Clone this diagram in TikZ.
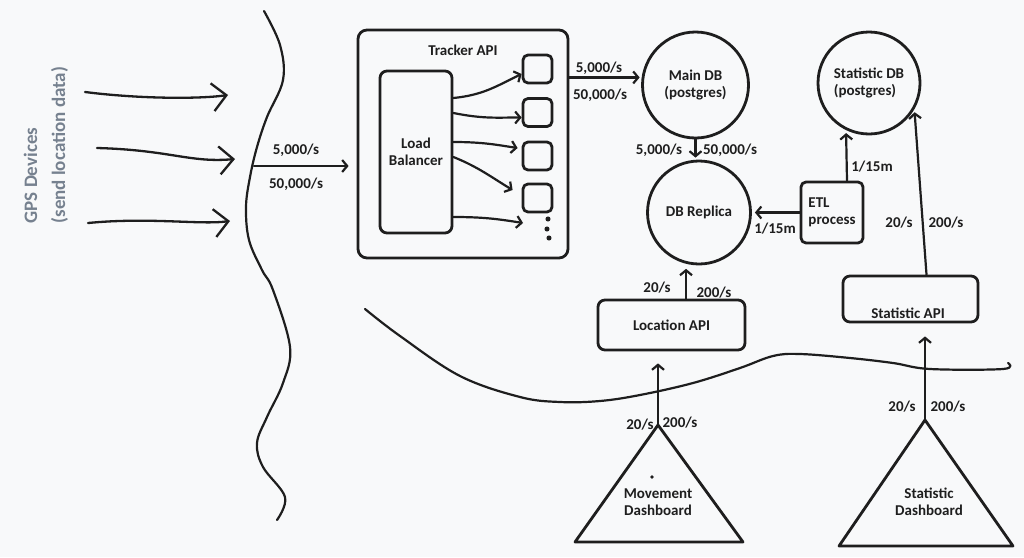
\documentclass[tikz,border=0pt]{standalone}
\usepackage{fontspec}
\setmainfont{Carlito}
\usetikzlibrary{arrows.meta,calc}
\definecolor{bg}{HTML}{F8F9FA}
\definecolor{ink}{HTML}{1E1E1E}
\definecolor{gpscol}{HTML}{76818F}
\begin{document}
\begin{tikzpicture}[x=1pt,y=-1pt, line join=round, line cap=round,
  every node/.style={font=\bfseries\fontsize{15}{17}\selectfont, text=ink},
  box/.style={draw=ink, line width=2.8pt, rounded corners=7pt},
  db/.style={draw=ink, line width=2.8pt, circle, inner sep=0pt, align=center},
  conn/.style={draw=ink, line width=2.2pt, -{Straight Barb[length=5pt,width=12pt]}},
  bigarr/.style={draw=ink, line width=2.3pt, -{Straight Barb[length=14pt,width=28pt]}},
  lbl/.style={inner sep=1pt},
  wave/.style={draw=ink, line width=2.2pt},
  tri/.style={draw=ink, line width=2.8pt},
]
\fill[bg] (0,0) rectangle (1024,557);
\useasboundingbox (0,0) rectangle (1024,557);

% GPS devices
\node[rotate=90, anchor=west, align=left, text=gpscol, font=\bfseries\fontsize{19}{28}\selectfont] (gps) at (46,227) {GPS Devices\\(send location data)};
\coordinate (g1s) at (85,92);  \coordinate (g1e) at (228,95);
\coordinate (g2s) at (97,148); \coordinate (g2e) at (235,159);
\coordinate (g3s) at (88,223); \coordinate (g3e) at (230,221);
\draw[bigarr] (g1s) .. controls (140,99) and (200,99) .. (g1e);
\draw[bigarr] (g2s) .. controls (170,150) and (190,163) .. (g2e);
\draw[bigarr] (g3s) .. controls (150,217) and (200,225) .. (g3e);

% wavy boundary (vertical)
\draw[wave] plot[smooth, tension=0.6] coordinates {(264,11) (280,45) (283,80) (267,117) (257,147) (250,177) (246,207) (249,240) (262,270) (273,290) (290,347) (283,383) (267,417) (257,443) (263,467) (285,497) (277,520)};

% wavy boundary (horizontal)
\draw[wave] plot[smooth, tension=0.6] coordinates {(365,309) (400,336) (460,376) (520,397) (560,402) (600,401) (640,395) (693,383) (740,368) (773,356) (800,354) (850,358) (893,363) (930,369) (1003,369) (1008,363)};

% Tracker API
\node[box, rounded corners=9pt, minimum width=210pt, minimum height=228pt] (tracker) at (463,144) {};
\node (trackertitle) at (463,50) {Tracker API};
\node[box, minimum width=72pt, minimum height=162pt, align=center] (lb) at (416,152) {Load\\Balancer};
\node[box, rounded corners=5pt, minimum width=29pt, minimum height=28pt] (s1) at (537.5,69) {};
\node[box, rounded corners=5pt, minimum width=29pt, minimum height=28pt] (s2) at (537.5,112.5) {};
\node[box, rounded corners=5pt, minimum width=29pt, minimum height=28pt] (s3) at (537.5,156) {};
\node[box, rounded corners=5pt, minimum width=29pt, minimum height=28pt] (s4) at (537.5,198) {};
\node[circle, fill=ink, inner sep=1.8pt] (d1) at (548,219) {};
\node[circle, fill=ink, inner sep=1.8pt] (d2) at (547,229) {};
\node[circle, fill=ink, inner sep=1.8pt] (d3) at (549,238) {};
\coordinate (dotsarr) at (523,223);

\draw[conn] ([yshift=54pt]lb.east) .. controls +(30,-3) and +(-25,12) .. ([yshift=-5pt]s1.west);
\draw[conn] ([yshift=39pt]lb.east) .. controls +(30,6) and +(-25,0) .. ([yshift=-5pt]s2.west);
\draw[conn] ([yshift=10pt]lb.east) .. controls +(30,0) and +(-20,-3) .. ([yshift=8pt,xshift=-4pt]s3.west);
\draw[conn] ([yshift=-5pt]lb.east) .. controls +(25,10) and +(-20,-12) .. ([xshift=-9pt,yshift=8pt]s4.west);
\draw[conn] ([yshift=-65pt]lb.east) .. controls +(30,0) and +(-25,-4) .. (dotsarr);

% incoming arrow from boundary
\coordinate (w1) at (254,166);
\draw[conn, shorten >=8pt] (w1) -- (w1 -| tracker.west);
\node[lbl] (in1) at (296,150) {5,000/s};
\node[lbl] (in2) at (296,184) {50,000/s};

% databases
\node[db, minimum size=106pt] (main) at (695.5,85) {Main DB\\(postgres)};
\node[db, minimum size=103pt] (replica) at (699,212.5) {DB Replica};
\node[db, minimum size=102pt, align=left] (statdb) at (869,83) {Statistic DB\\(postgres)};
\node[box, rounded corners=5pt, minimum width=62pt, minimum height=61pt, align=left] (etl) at (832,212.5) {ETL\\process};

\draw[conn, shorten >=2pt] (tracker.east |- main.172) -- (main.172);
\node[lbl] (t1) at (599,68) {5,000/s};
\node[lbl] (t2) at (600,95) {50,000/s};

\draw[conn, shorten >=2pt] (main.south) -- (main.south |- replica.north);
\node[lbl] (m1) at (659,150) {5,000/s};
\node[lbl] (m2) at (730,150) {50,000/s};

\draw[conn, shorten >=3pt] (etl.west) -- (replica.east);
\node[lbl] (e1) at (775,229) {1/15m};
\draw[conn, shorten >=3pt] ([xshift=15pt]etl.north) -- (statdb.244);
\node[lbl] (e2) at (872,167) {1/15m};

% APIs
\node[box, minimum width=147pt, minimum height=50pt] (locapi) at (671.5,325) {Location API};
\node[box, minimum width=135pt, minimum height=46pt] (statapi) at (910.5,299) {};
\node (statapitxt) at (908,313) {Statistic API};

\draw[conn, shorten >=5pt] ([xshift=14.5pt]locapi.north) -- ([xshift=14.5pt]locapi.north |- replica.256);
\node[lbl] (l1) at (657,288) {20/s};
\node[lbl] (l2) at (714,293) {200/s};

\draw[conn, shorten >=3pt] ([xshift=16pt]statapi.north) -- (statdb.330);
\node[lbl] (sa1) at (899,223) {20/s};
\node[lbl] (sa2) at (946,223) {200/s};

% dashboards
\coordinate (mdA) at (658,425); \coordinate (mdB) at (575,542); \coordinate (mdC) at (743,542);
\draw[tri] (mdA) -- (mdB) -- (mdC) -- cycle;
\node[align=center] (mdtxt) at (658,502) {Movement\\Dashboard};
\fill[ink] (652,477) circle (1.9pt);
\draw[conn, shorten >=12pt] (mdA) -- (mdA |- locapi.south);
\node[lbl] (md1) at (640,425) {20/s};
\node[lbl] (md2) at (680,423) {200/s};

\coordinate (sdA) at (925,420); \coordinate (sdB) at (839,546); \coordinate (sdC) at (1013,546);
\draw[tri] (sdA) -- (sdB) -- (sdC) -- cycle;
\node[align=center] (sdtxt) at (929,502) {Statistic\\Dashboard};
\draw[conn, shorten >=13pt] (sdA) -- (sdA |- statapi.south);
\node[lbl] (sd1) at (902,407) {20/s};
\node[lbl] (sd2) at (948,407) {200/s};
\end{tikzpicture}
\end{document}
